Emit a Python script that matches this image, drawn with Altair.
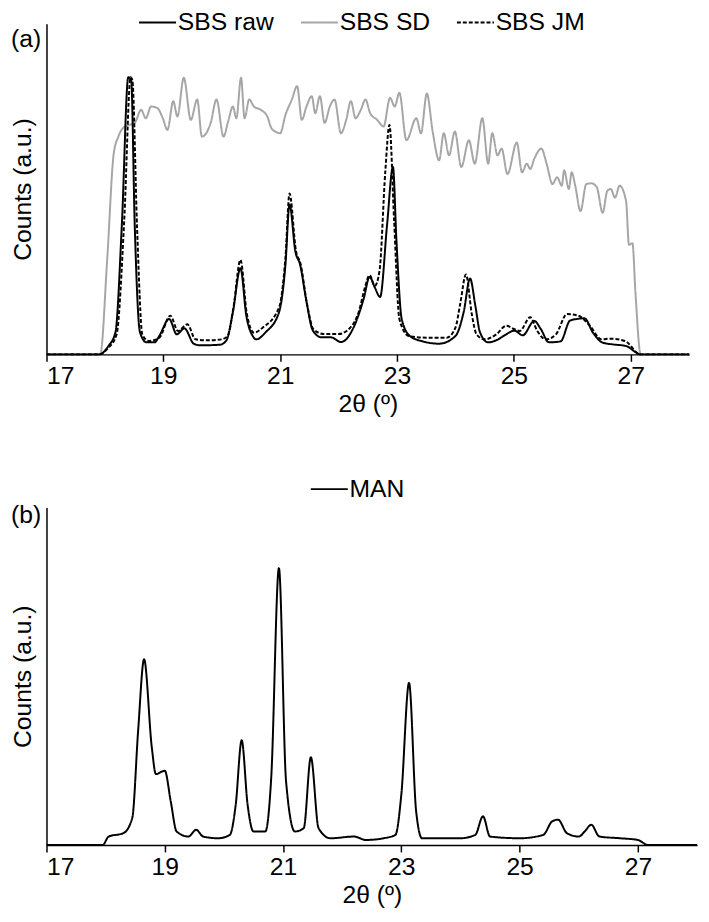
import altair as alt
import pandas as pd

FONT = "Liberation Sans"
FS = 25

# ---------------- panel (a) data ----------------
top_names = ["SBS raw", "SBS SD", "SBS JM"]

raw_x = [17.0, 17.9, 18.06, 18.18, 18.29, 18.40, 18.45, 18.51, 18.60, 18.71, 18.85, 18.93, 19.10, 19.23,
         19.36, 19.52, 19.63, 19.97, 20.08, 20.19, 20.32, 20.42, 20.53, 20.59, 20.75, 20.98, 21.09, 21.16,
         21.26, 21.34, 21.45, 21.56, 21.71, 21.87, 22.04, 22.27, 22.43, 22.53, 22.62, 22.71, 22.83, 22.93,
         22.99, 23.08, 23.22, 23.44, 23.72, 24.00, 24.14, 24.25, 24.34, 24.42, 24.56, 24.73, 24.84, 25.01,
         25.15, 25.35, 25.46, 25.60, 25.80, 25.96, 26.08, 26.21, 26.35, 26.52, 26.69, 26.92, 27.17, 28.0]
raw_y = [0, 0, 2.5, 6.6, 38.9, 83, 82, 38.9, 6.6, 3.6, 3.6, 5.5, 10.6, 6.0,
         7.8, 3.2, 2.7, 2.9, 4.2, 12.6, 25.8, 11.6, 5.5, 4.5, 6.6, 12.6, 26.9, 44.9,
         30.8, 26.9, 15.8, 7.1, 5.1, 5.1, 3.7, 8.6, 16.7, 23.2, 20.0, 17.2, 38.9, 56.1,
         34, 10.6, 5.5, 3.9, 3.2, 5.5, 12.6, 22.7, 14.6, 6.6, 3.6, 4.5, 5.7, 7.1,
         5.7, 10.0, 7.6, 3.6, 3.9, 10.1, 10.6, 10.8, 6.6, 3.5, 3.0, 2.5, 0, 0]

sd_x = [17.0, 17.92, 18.04, 18.15, 18.23, 18.34, 18.51, 18.62, 18.70, 18.79, 18.90, 18.99, 19.07, 19.17,
        19.24, 19.35, 19.47, 19.58, 19.66, 19.81, 19.91, 20.03, 20.11, 20.19, 20.25, 20.33, 20.39, 20.47,
        20.55, 20.67, 20.78, 20.85, 20.92, 21.00, 21.09, 21.20, 21.29, 21.37, 21.45, 21.54, 21.60, 21.68,
        21.76, 21.85, 21.93, 22.04, 22.13, 22.21, 22.29, 22.38, 22.46, 22.54, 22.66, 22.77, 22.88, 22.96,
        23.04, 23.16, 23.33, 23.41, 23.51, 23.61, 23.72, 23.80, 23.89, 23.99, 24.10, 24.23, 24.33, 24.46,
        24.56, 24.63, 24.72, 24.79, 24.89, 25.05, 25.14, 25.22, 25.28, 25.35, 25.47, 25.56, 25.66, 25.74,
        25.82, 25.86, 25.94, 25.99, 26.05, 26.14, 26.24, 26.33, 26.42, 26.52, 26.60, 26.66, 26.73, 26.81,
        26.92, 26.97, 27.03, 27.08, 27.17, 28.0]
sd_y = [0, 0, 28.8, 60, 65.2, 68.2, 69.3, 73.2, 70.7, 74.2, 73.7, 70.7, 67.2, 75.8,
        71.2, 82.8, 70.2, 76.3, 65.2, 69.3, 76.3, 65.2, 69.8, 74.2, 70.7, 82.8, 70.7, 76.3,
        74.2, 73.2, 71.2, 67.7, 66.7, 66.2, 71.7, 76.3, 80.3, 70.2, 74.2, 77.3, 72.2, 77.3,
        69.3, 74.2, 76.3, 66.2, 70.2, 75.8, 70.7, 73.2, 76.3, 72.2, 70.2, 68.2, 76.8, 74.2,
        78.3, 64.1, 70.7, 66.2, 78.1, 66.7, 58.1, 66.2, 59.6, 66.7, 56.1, 64.1, 57.1, 70.7,
        57.1, 66.2, 59.6, 61.6, 54.0, 63.4, 54.5, 57.1, 55.5, 58.6, 61.6, 57.1, 51.0, 53.0,
        50.5, 55.1, 49.5, 54.5, 50.5, 42.9, 51.0, 51.2, 50.0, 42.4, 49.0, 49.5, 46.9, 50.5,
        45.9, 32.8, 33.3, 18.7, 0, 0]

jm_x = [17.0, 17.9, 18.06, 18.20, 18.33, 18.44, 18.47, 18.55, 18.64, 18.75, 18.93, 19.12, 19.25, 19.41,
        19.55, 19.75, 20.00, 20.10, 20.20, 20.32, 20.43, 20.55, 20.70, 20.98, 21.09, 21.16, 21.27, 21.35,
        21.46, 21.57, 21.75, 22.00, 22.20, 22.35, 22.45, 22.53, 22.62, 22.70, 22.80, 22.87, 22.95, 23.04,
        23.20, 23.50, 23.85, 24.00, 24.08, 24.18, 24.28, 24.36, 24.50, 24.70, 24.87, 25.00, 25.10, 25.28,
        25.40, 25.55, 25.72, 25.91, 26.10, 26.30, 26.50, 26.65, 26.90, 27.17, 28.0]
jm_y = [0, 0, 2, 6, 40, 83, 82, 38, 6, 4, 5, 11.6, 7, 9,
        4.5, 4.2, 4.5, 5.5, 14, 28.3, 12, 6.5, 8, 14, 29, 48.2, 31, 27,
        15, 7.5, 6.1, 6.1, 8, 13, 20, 23.7, 20.5, 25, 55, 68.7, 40, 10.6,
        5.5, 5, 5, 8, 15, 23.9, 12, 6, 4.5, 6, 8.6, 7.6, 7.0, 11.1,
        7, 4.5, 6, 12.1, 11.6, 8.6, 4.5, 4.7, 4, 0, 0]

# ---------------- panel (b) data ----------------
bottom_names = ["MAN"]
man_x = [17.0, 17.95, 18.05, 18.30, 18.45, 18.55, 18.65, 18.78, 18.85, 19.00, 19.10, 19.20, 19.40, 19.53,
         19.65, 19.90, 20.10, 20.20, 20.30, 20.40, 20.50, 20.70, 20.80, 20.93, 21.05, 21.20, 21.35, 21.47,
         21.60, 21.80, 22.20, 22.40, 22.70, 22.90, 23.00, 23.13, 23.25, 23.35, 24.00, 24.25, 24.38, 24.50,
         25.00, 25.40, 25.55, 25.65, 25.80, 26.00, 26.10, 26.21, 26.35, 26.70, 27.00, 27.17, 28.0]
man_y = [0, 0, 2.5, 3.5, 8, 34, 55, 29, 21, 22, 13, 4, 2.5, 4.5,
         2.5, 2, 3, 12, 31, 12, 4, 4, 20, 82, 19, 4, 5, 26,
         5, 2, 2.5, 1.5, 2, 3, 15, 48, 10, 2, 2, 3, 8.5, 2.5,
         2, 3, 7, 7.5, 3.5, 2.5, 4, 6, 2.5, 2, 1.5, 0, 0]

tick_vals = [17, 19, 21, 23, 25, 27]


def frame(name, xs, ys):
    return pd.DataFrame({"theta": xs, "counts": ys, "series": [name] * len(xs)})


df_top = pd.concat([frame("SBS raw", raw_x, raw_y), frame("SBS SD", sd_x, sd_y),
                    frame("SBS JM", jm_x, jm_y)], ignore_index=True)
df_bot = frame("MAN", man_x, man_y)

x_axis = alt.Axis(values=tick_vals, title="2θ (º)", grid=False, tickSize=7, tickWidth=1.5,
                  tickColor="#000", domainColor="#000", domainWidth=1.5, labelFontSize=FS,
                  labelColor="#000", labelPadding=3, titleFontSize=FS, titleFontWeight="normal",
                  titleColor="#000", titlePadding=3, format="d", labelFont=FONT, titleFont=FONT)
y_axis = alt.Axis(title="Counts (a.u.)", labels=False, ticks=False, grid=False, domainColor="#000",
                  domainWidth=1.5, titleFontSize=FS, titleFontWeight="normal", titleColor="#000",
                  titlePadding=11, titleFont=FONT)

SYMBOL = "M-1.5,0H1.5"


def legend(lx, ly):
    return alt.Legend(orient="none", legendX=lx, legendY=ly, direction="horizontal", title=None,
                      symbolType=SYMBOL, symbolSize=625, symbolStrokeWidth=2, labelFontSize=FS,
                      labelFont=FONT, labelColor="#000", labelOffset=7, columnPadding=22, padding=0)


def panel(df, names, colors, dashes, order, w, h, ymax, lx, ly, tag, tag_y):
    enc = dict(
        x=alt.X("theta:Q", scale=alt.Scale(domain=[17, 28], nice=False, zero=False), axis=x_axis),
        y=alt.Y("counts:Q", scale=alt.Scale(domain=[0, ymax], nice=False), axis=y_axis),
        color=alt.Color("series:N", scale=alt.Scale(domain=names, range=colors), legend=legend(lx, ly)),
        strokeDash=alt.StrokeDash("series:N", scale=alt.Scale(domain=names, range=dashes),
                                  legend=legend(lx, ly)),
    )
    layers = []
    for n in order:
        layers.append(alt.Chart(df).transform_filter(alt.datum.series == n)
                      .mark_line(strokeWidth=2, interpolate="monotone").encode(**enc))
    label = alt.Chart(pd.DataFrame({"t": [tag]})).mark_text(
        fontSize=FS, font=FONT, align="left", baseline="middle", color="#000"
    ).encode(text="t:N", x=alt.value(-36), y=alt.value(tag_y))
    layers.append(label)
    return alt.layer(*layers).properties(width=w, height=h)


top = panel(df_top, top_names, ["#000000", "#a6a6a6", "#000000"], [[1, 0], [1, 0], [4, 2]],
            ["SBS SD", "SBS raw", "SBS JM"], 651, 335, 99, 99, -15, "(a)", 16)
bottom = panel(df_bot, bottom_names, ["#000000"], [[1, 0]], ["MAN"], 659, 342, 100, 273, -32, "(b)", 8)

chart = (
    alt.vconcat(top, bottom, spacing=60)
    .resolve_scale(color="independent", strokeDash="independent")
    .resolve_legend(color="independent", strokeDash="independent")
    .properties(padding={"top": -5, "left": 3, "right": 0, "bottom": 0})
    .configure(font=FONT)
    .configure_view(stroke=None, strokeWidth=0)
)

chart.save("out.html", embed_options={"renderer": "svg", "actions": False})
